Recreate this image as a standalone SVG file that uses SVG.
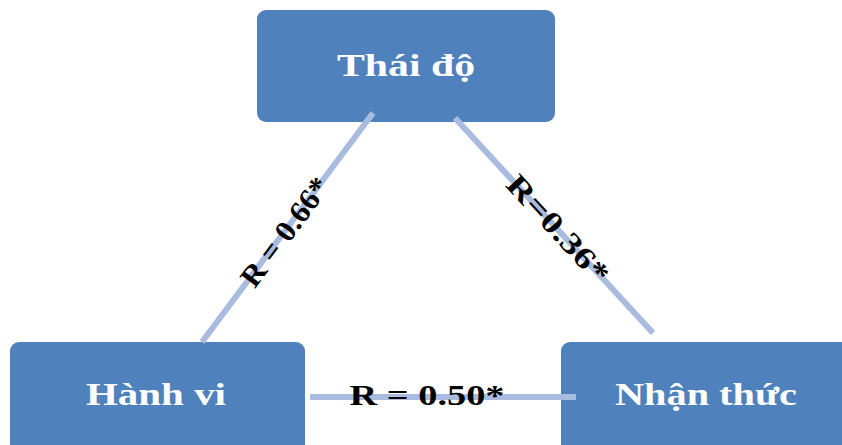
<svg xmlns="http://www.w3.org/2000/svg" width="842" height="445" viewBox="0 0 842 445">
<style>
.box{fill:#4f81bd;}
.lbl{font-family:"Liberation Serif","Times New Roman",serif;font-weight:bold;font-size:32px;fill:#ffffff;text-anchor:middle;}
.rl{font-family:"Liberation Serif","Times New Roman",serif;font-weight:bold;font-size:30px;fill:#000000;text-anchor:middle;}
.con{stroke:#a9bcdf;stroke-width:6;fill:none;}
</style>
<rect width="842" height="445" fill="#ffffff"/>
<g id="node-thai-do">
<rect class="box" x="257" y="10" width="298" height="112" rx="9"/>
<text class="lbl" x="406" y="76" textLength="138" lengthAdjust="spacingAndGlyphs">Thái độ</text>
</g>
<g id="node-hanh-vi">
<rect class="box" x="10" y="342" width="295" height="115" rx="9"/>
<text class="lbl" x="156" y="405" textLength="140" lengthAdjust="spacingAndGlyphs">Hành vi</text>
</g>
<g id="node-nhan-thuc">
<rect class="box" x="561" y="342" width="298" height="115" rx="9"/>
<text class="lbl" x="706" y="405" textLength="182" lengthAdjust="spacingAndGlyphs">Nhận thức</text>
</g>
<g id="connectors">
<line class="con" x1="373" y1="113" x2="202" y2="342"/>
<line class="con" x1="455" y1="118" x2="653" y2="333"/>
<line class="con" x1="310" y1="397" x2="576" y2="397"/>
<text class="rl" transform="translate(285,232) rotate(-53.3)" x="0" y="10" textLength="128" lengthAdjust="spacingAndGlyphs">R = 0.66*</text>
<text class="rl" transform="translate(558,229) rotate(47.4)" x="0" y="10" textLength="136" lengthAdjust="spacingAndGlyphs">R=0.36*</text>
<text class="rl" x="427" y="405" textLength="155" lengthAdjust="spacingAndGlyphs">R = 0.50*</text>
</g>
</svg>
